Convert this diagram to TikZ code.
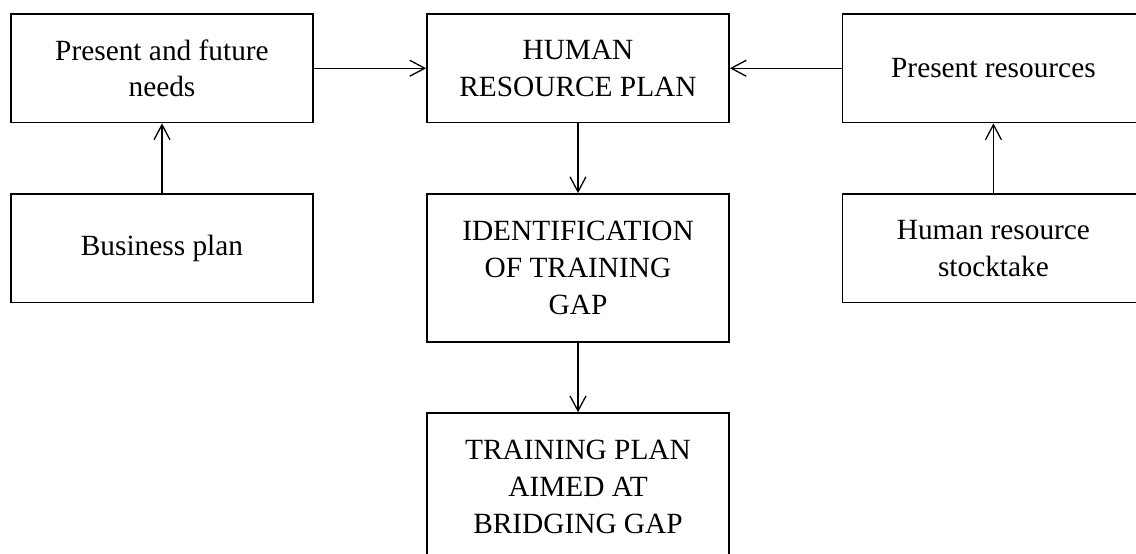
\documentclass[tikz,border=0pt]{standalone}
\usepackage{fontspec}
\setmainfont{Liberation Serif}
\usetikzlibrary{arrows.meta}

\begin{document}
\begin{tikzpicture}[
  box/.style={draw,line width=0.9pt,minimum width=5.317cm,minimum height=1.91cm,
    align=center,inner sep=2pt,font=\fontsize{14.7}{18.4}\selectfont},
  tallbox/.style={box,minimum height=2.6cm},
  flow/.style={-{Straight Barb[length=7.5pt,width=8pt]},line width=0.65pt}
]
% Page frame
\clip (0,0) rectangle (20,9.736);

% Top row
\node[box] (needs) at (2.852,8.534) {Present and future\\needs};
\node[box] (hrplan) at (10.176,8.534) {HUMAN\\RESOURCE PLAN};
\node[box] (present) at (17.49,8.534) {Present resources};

% Second row
\node[box] (business) at (2.852,5.365) {Business plan};
\node[tallbox] (gap) at (10.176,5.020) {IDENTIFICATION\\OF TRAINING\\GAP};
\node[box] (stocktake) at (17.49,5.365) {Human resource\\stocktake};

% Bottom
\node[tallbox] (training) at (10.176,1.162) {TRAINING PLAN\\AIMED AT\\BRIDGING GAP};

% Arrows
\draw[flow] (needs) -- (hrplan);
\draw[flow] (present) -- (hrplan);
\draw[flow] (business) -- (needs);
\draw[flow] (stocktake) -- (present);
\draw[flow] (hrplan) -- (gap);
\draw[flow] (gap) -- (training);
\end{tikzpicture}
\end{document}
